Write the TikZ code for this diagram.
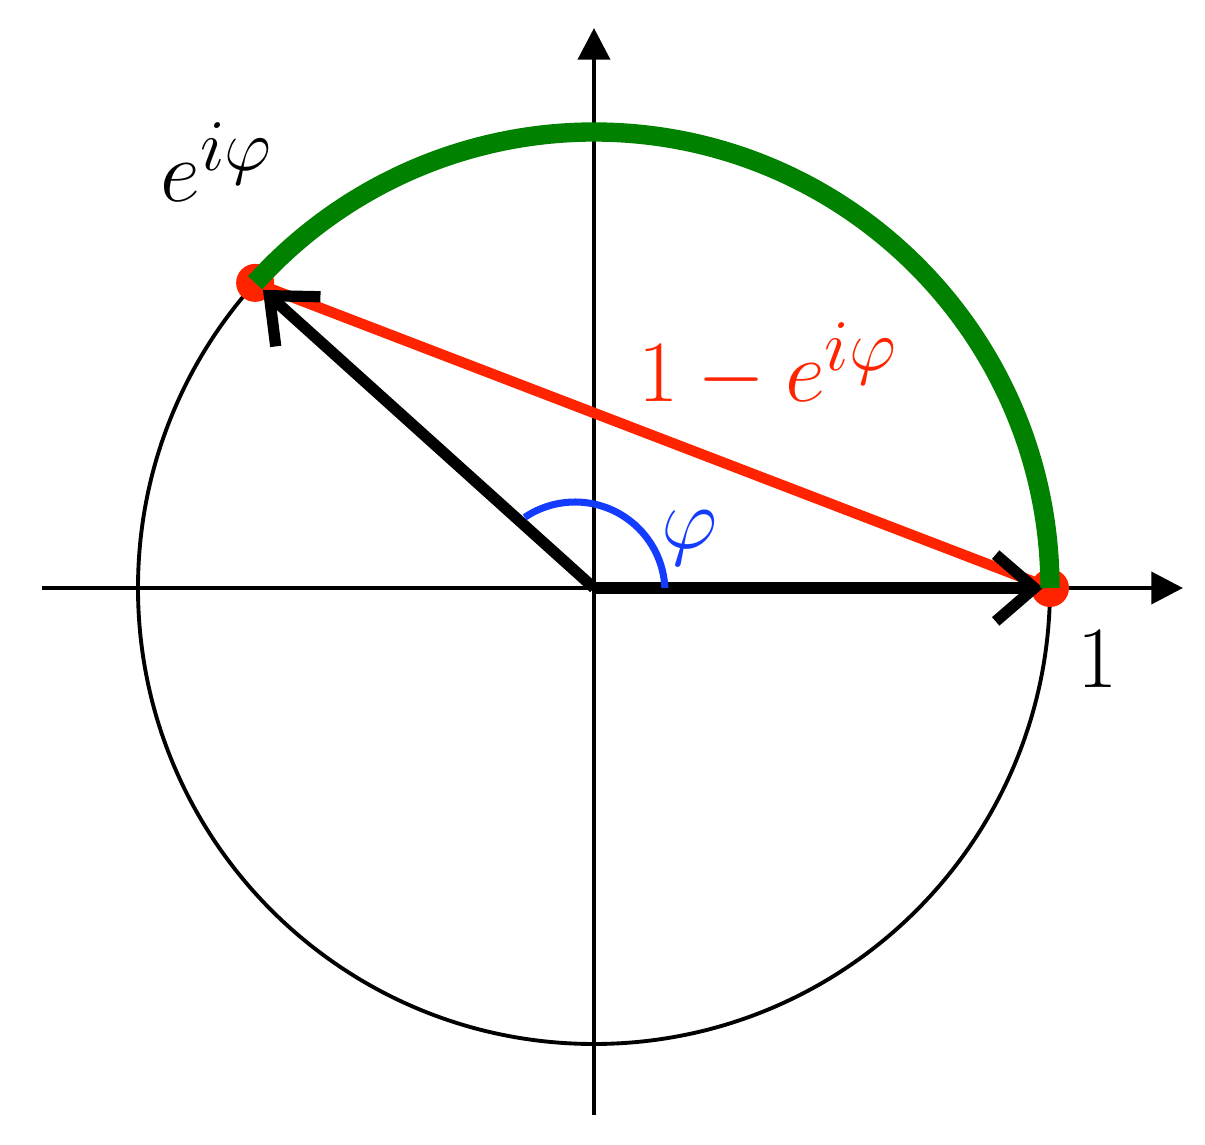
\documentclass[tikz,border=0pt]{standalone}
\usetikzlibrary{arrows.meta}
\definecolor{myred}{RGB}{255,35,0}
\definecolor{mygreen}{RGB}{0,130,0}
\definecolor{myblue}{RGB}{20,60,255}
\begin{document}
\begin{tikzpicture}[x=0.01cm,y=0.01cm,
  axis/.style={line width=1.4pt,-{Triangle[length=9pt,width=9pt]}},
  vec/.style={line width=3.2pt,line cap=butt,-{Straight Barb[length=11pt,width=19pt]}},
  lbl/.style={font=\fontsize{24.88}{30}\selectfont, inner sep=0pt}]
\useasboundingbox (-594,-557) rectangle (611,588);
\coordinate (O) at (0,0);
\coordinate (E) at (138:456);
\coordinate (U) at (456,0);
\coordinate (xl) at (-552,0);
\coordinate (xr) at (589,0);
\coordinate (yb) at (0,-527);
\coordinate (yt) at (0,560);
\coordinate (bc) at (-19,-4);
\draw[line width=1.1pt] (O) circle (456);
\draw[axis] (xl) -- (xr);
\draw[axis] (yb) -- (yt);
\fill[myred] (E) circle (19);
\fill[myred] (U) circle (19);
\draw[myred,line width=3pt] (E) -- (U);
\draw[vec,shorten >=3pt] (O) -- (E);
\draw[vec,shorten >=2pt] (O) -- (U);
\draw[mygreen,line width=5.5pt] (U) arc[start angle=0,end angle=138,radius=456];
\draw[myblue,line width=2pt] (bc) ++(2.5:90) arc[start angle=2.5,end angle=124,radius=90];
\node[lbl,anchor=base west] (le) at (-434,386) {$e^{i\varphi}$};
\node[lbl,anchor=base,text=myred] (ld) at (174,186) {$1-e^{i\varphi}$};
\node[lbl,anchor=base] (l1) at (504,-100) {$1$};
\node[lbl,text=myblue] (lp) at (96,50) {$\varphi$};
\end{tikzpicture}
\end{document}
